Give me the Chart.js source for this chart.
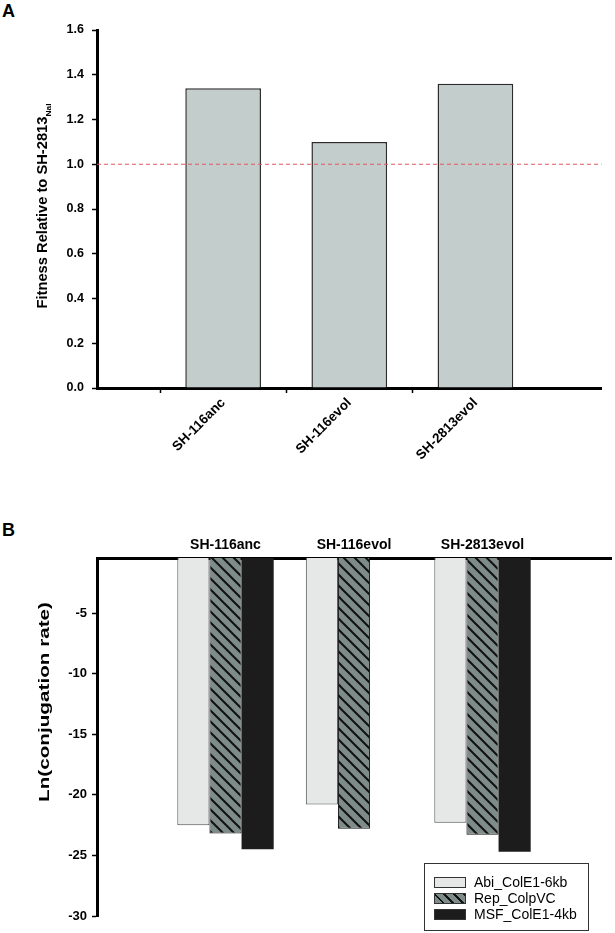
<!DOCTYPE html>
<html>
<head>
<meta charset="utf-8">
<script src="https://cdn.jsdelivr.net/npm/chart.js@4.4.1/dist/chart.umd.min.js"></script>
<style>
  body { margin: 0; background: #fff; font-family: "Liberation Sans", Arial, sans-serif; }
  #wrap { position: relative; width: 615px; height: 933px; }
  canvas { position: absolute; left: 0; }
  .tag { position: absolute; left: 2px; font-weight: bold; font-size: 18px; line-height: 18px; }
  #legend { position: absolute; left: 424px; top: 863px; width: 163px; height: 66px; border: 1px solid #333; font-size: 14px; }
  #legend .row { position: absolute; left: 0; height: 16px; line-height: 16px; white-space: nowrap; }
  #legend .sw { position: absolute; left: 9px; top: 3px; width: 30px; height: 9px; border: 1px solid #333; }
  #legend .txt { position: absolute; left: 49px; top: 0; }
</style>
</head>
<body>
<div id="wrap">
  <div class="tag" style="top:2px">A</div>
  <canvas id="chartA" width="615" height="470" style="top:0"></canvas>
  <div class="tag" style="top:521px">B</div>
  <canvas id="chartB" width="615" height="433" style="top:500px"></canvas>
  <div id="legend"></div>
</div>
<script>
// panel A
const strains = ["SH-116anc", "SH-116evol", "SH-2813evol"];
const fitness = [1.34, 1.10, 1.36];
const referenceLevel = 1.0;
const yTicksA = [0, 0.2, 0.4, 0.6, 0.8, 1.0, 1.2, 1.4, 1.6];

// panel B
const plasmids = ["Abi_ColE1-6kb", "Rep_ColpVC", "MSF_ColE1-4kb"];
const abi = [-22.5, -20.8, -22.3];
const rep = [-23.2, -22.8, -23.3];
const msf = [-24.5, null, -24.7];
const yTicksB = [-5, -10, -15, -20, -25, -30];
const yMaxB = -0.45;

Chart.defaults.font.family = '"Liberation Sans", Arial, sans-serif';
Chart.defaults.color = "#000";

// empty slot at each end so the groups sit where the original puts them
const slots = ["", ...strains, ""];
const pad = arr => [null, ...arr, null];

const FONT = '"Liberation Sans", Arial, sans-serif';

// rotated y title, with optional subscript, stretched to a given length
const yTitle = {
  id: "yTitle",
  afterDraw(chart, args, o) {
    const ctx = chart.ctx;
    const main = "bold " + o.size + "px " + FONT;
    const small = "bold 8px " + FONT;
    ctx.save();
    ctx.translate(o.x, o.y);
    ctx.rotate(-Math.PI / 2);
    ctx.font = main;
    const w = ctx.measureText(o.text).width;
    let sw = 0;
    if (o.sub) {
      ctx.font = small;
      sw = ctx.measureText(o.sub).width;
    }
    const total = w + sw;
    ctx.scale(o.length / total, 1);
    ctx.fillStyle = "#000";
    ctx.textBaseline = "middle";
    ctx.font = main;
    ctx.fillText(o.text, -total / 2, 0);
    if (o.sub) {
      ctx.font = small;
      ctx.fillText(o.sub, -total / 2 + w, 6);
    }
    ctx.restore();
  }
};

const hatch = (ctx) => {
  const s = 11;
  const c = document.createElement("canvas");
  c.width = c.height = s;
  const x = c.getContext("2d");
  x.fillStyle = "#7d8b89";
  x.fillRect(0, 0, s, s);
  x.strokeStyle = "#111";
  x.lineWidth = 2;
  x.beginPath();
  x.moveTo(-2, -2); x.lineTo(s + 2, s + 2);
  x.moveTo(-2, s - 2); x.lineTo(2, s + 2);
  x.moveTo(s - 2, -2); x.lineTo(s + 2, 2);
  x.stroke();
  return ctx.createPattern(c, "repeat");
};

new Chart(document.getElementById("chartA"), {
  data: {
    labels: slots,
    datasets: [
      {
        type: "line",
        data: slots.map(() => referenceLevel),
        borderColor: "#e05a60",
        borderWidth: 1.2,
        borderDash: [4, 3],
        pointRadius: 0,
        order: 0
      },
      {
        type: "bar",
        data: pad(fitness),
        backgroundColor: "#c3cdcc",
        borderColor: "#2b2b2b",
        borderWidth: 1.5,
        categoryPercentage: 1,
        barPercentage: 0.6,
        order: 1
      }
    ]
  },
  options: {
    responsive: false,
    animation: false,
    layout: { padding: { top: 30, right: 4, left: 0, bottom: 0 } },
    plugins: {
      legend: { display: false },
      tooltip: { enabled: false },
      yTitle: { x: 43, y: 206, size: 14, length: 205, text: "Fitness Relative to SH-2813", sub: "Nal" }
    },
    scales: {
      x: {
        type: "category",
        offset: false,
        grid: {
          drawOnChartArea: false,
          tickLength: 5,
          tickWidth: 1.5,
          tickColor: c => (c.index === 0 || c.index === slots.length - 1) ? "rgba(0,0,0,0)" : "#000"
        },
        border: { color: "#000", width: 3 },
        ticks: { font: { weight: "bold", size: 13.5 }, color: "#000", minRotation: 45, maxRotation: 45, autoSkip: false, padding: 2 },
        afterFit: s => { s.height = 82; }
      },
      y: {
        min: 0,
        max: 1.6,
        afterBuildTicks: s => { s.ticks = yTicksA.map(v => ({ value: v })); },
        grid: { drawOnChartArea: false, tickLength: 5, tickWidth: 1.5, tickColor: "#000" },
        border: { color: "#000", width: 3 },
        ticks: { font: { weight: "bold", size: 12.5 }, color: "#000", padding: 8, callback: v => v.toFixed(1) },
        afterFit: s => { s.width = 97; }
      }
    }
  },
  plugins: [yTitle]
});

const canvasB = document.getElementById("chartB");
const fillsB = ["#e5e8e7", hatch(canvasB.getContext("2d")), "#1c1c1c"];
const edgesB = ["#4a4a4a", "#111", "#1c1c1c"];

new Chart(canvasB, {
  type: "bar",
  data: {
    labels: slots,
    datasets: [abi, rep, msf].map((vals, i) => ({
      label: plasmids[i],
      data: pad(vals),
      base: yMaxB,
      backgroundColor: fillsB[i],
      borderColor: edgesB[i],
      borderWidth: i === 2 ? 0 : 1,
      categoryPercentage: 0.75,
      barPercentage: 1
    }))
  },
  options: {
    responsive: false,
    animation: false,
    layout: { padding: { top: 0, right: 3, left: 0, bottom: 17 } },
    plugins: {
      legend: { display: false },
      tooltip: { enabled: false },
      yTitle: { x: 45, y: 202, size: 15, length: 200, text: "Ln(conjugation rate)" }
    },
    scales: {
      x: {
        type: "category",
        position: "top",
        offset: false,
        grid: { display: false, drawTicks: false },
        border: { color: "#000", width: 3 },
        ticks: { font: { weight: "bold", size: 14 }, color: "#000", maxRotation: 0, autoSkip: false, padding: 4 },
        afterFit: s => { s.height = 58; }
      },
      y: {
        min: -30,
        max: yMaxB,
        afterBuildTicks: s => { s.ticks = yTicksB.map(v => ({ value: v })); },
        grid: { drawOnChartArea: false, tickLength: 5, tickWidth: 1.5, tickColor: "#000" },
        border: { color: "#000", width: 3 },
        ticks: { font: { weight: "bold", size: 13 }, color: "#000", padding: 5 },
        afterFit: s => { s.width = 97; }
      }
    }
  },
  plugins: [yTitle]
});

// legend box for panel B
const legend = document.getElementById("legend");
const swatchCss = [
  "background:#e5e8e7",
  "background:repeating-linear-gradient(45deg,#7d8b89 0 5px,#111 5px 7px)",
  "background:#1c1c1c"
];
plasmids.forEach((name, i) => {
  const row = document.createElement("div");
  row.className = "row";
  row.style.top = (10 + i * 16) + "px";
  row.innerHTML = `<span class="sw" style="${swatchCss[i]}"></span><span class="txt">${name}</span>`;
  legend.appendChild(row);
});
</script>
</body>
</html>
